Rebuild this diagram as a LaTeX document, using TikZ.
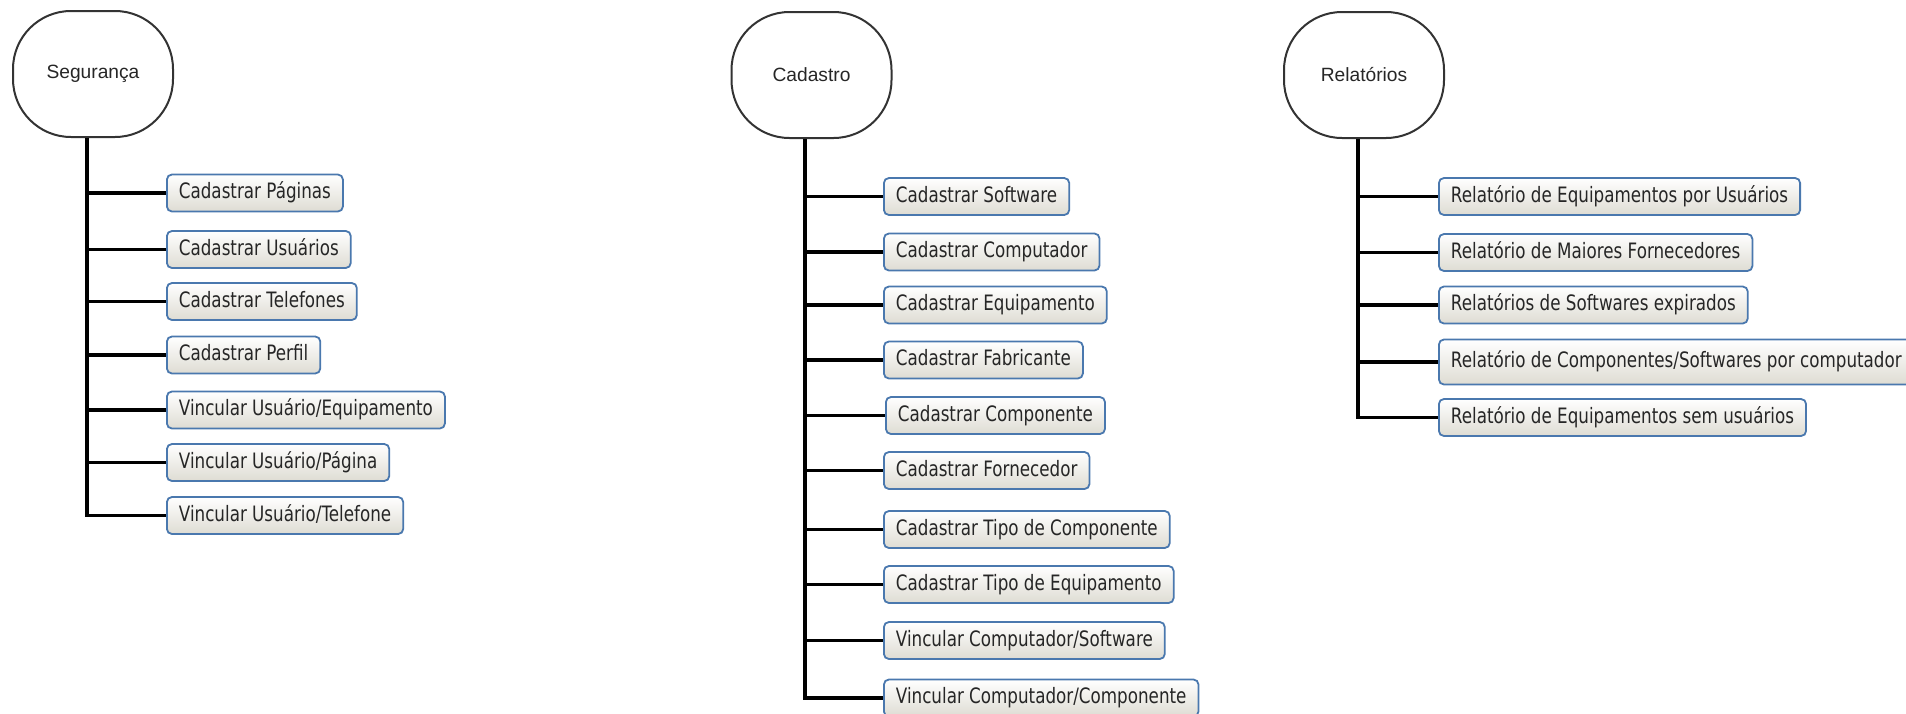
\documentclass[tikz,border=0pt]{standalone}
\usepackage{fontspec}
\setmainfont{Liberation Sans}
\newfontfamily\boxfont[FakeStretch=0.79]{DejaVu Sans}
\usetikzlibrary{shadings}
\definecolor{boxblue}{HTML}{4A78AE}
\definecolor{boxbot}{HTML}{DEDCD3}
\definecolor{txt}{HTML}{262626}
\begin{document}
\begin{tikzpicture}[x=0.5pt,y=-0.5pt,
  hdr/.style={draw=black!80, line width=1pt, rounded corners=29pt, minimum width=80pt, minimum height=63pt, inner sep=0pt, font=\fontsize{9.6}{11}\selectfont, text=txt},
  item/.style={draw=boxblue, line width=0.9pt, rounded corners=2.5pt, top color=white, bottom color=boxbot, anchor=west, minimum height=18.5pt, inner xsep=6pt, inner ysep=0pt, text height=7.8pt, text depth=2.2pt, font=\boxfont\fontsize{10.6}{12}\selectfont, text=txt},
  link/.style={line width=1.6pt, draw=black}]
\useasboundingbox (0,0) rectangle (1906,713);

% ---------- Seguranca ----------
\node[hdr] (seg) at (93,74) {Segurança};
\node[item] (s1) at (166,193) {Cadastrar Páginas};
\node[item] (s2) at (166,249.5) {Cadastrar Usuários};
\node[item] (s3) at (166,301.5) {Cadastrar Telefones};
\node[item] (s4) at (166,355) {Cadastrar Perfil};
\node[item] (s5) at (166,410) {Vincular Usuário/Equipamento};
\node[item] (s6) at (166,462.5) {Vincular Usuário/Página};
\node[item] (s7) at (166,515.5) {Vincular Usuário/Telefone};
\coordinate (segT) at ([xshift=-3pt]seg.south);
\draw[link] (segT) -- (segT |- s7.west) -- (s7.west);
\foreach \i in {1,...,6} \draw[link] (segT |- s\i.west) -- (s\i.west);

% ---------- Cadastro ----------
\node[hdr] (cad) at (811.5,75) {Cadastro};
\node[item] (c1) at (883,196.5) {Cadastrar Software};
\node[item] (c2) at (883,252) {Cadastrar Computador};
\node[item] (c3) at (883,305) {Cadastrar Equipamento};
\node[item] (c4) at (883,360) {Cadastrar Fabricante};
\node[item] (c5) at (885,415.5) {Cadastrar Componente};
\node[item] (c6) at (883,470.5) {Cadastrar Fornecedor};
\node[item] (c7) at (883,529.5) {Cadastrar Tipo de Componente};
\node[item] (c8) at (883,584.5) {Cadastrar Tipo de Equipamento};
\node[item] (c9) at (883,640.5) {Vincular Computador/Software};
\node[item] (c10) at (883,698) {Vincular Computador/Componente};
\coordinate (cadT) at ([xshift=-3.25pt]cad.south);
\draw[link] (cadT) -- (cadT |- c10.west) -- (c10.west);
\foreach \i in {1,...,9} \draw[link] (cadT |- c\i.west) -- (c\i.west);

% ---------- Relatorios ----------
\node[hdr] (rel) at (1364,75) {Relatórios};
\node[item] (r1) at (1438,196.5) {Relatório de Equipamentos por Usuários};
\node[item] (r2) at (1438,252.5) {Relatório de Maiores Fornecedores};
\node[item] (r3) at (1438,305) {Relatórios de Softwares expirados};
\node[item, minimum height=22.5pt] (r4) at (1438,362) {Relatório de Componentes/Softwares por computador};
\node[item] (r5) at (1438,417.5) {Relatório de Equipamentos sem usuários};
\coordinate (relT) at ([xshift=-3pt]rel.south);
\draw[link] (relT) -- (relT |- r5.west) -- (r5.west);
\foreach \i in {1,...,4} \draw[link] (relT |- r\i.west) -- (r\i.west);
\end{tikzpicture}
\end{document}
